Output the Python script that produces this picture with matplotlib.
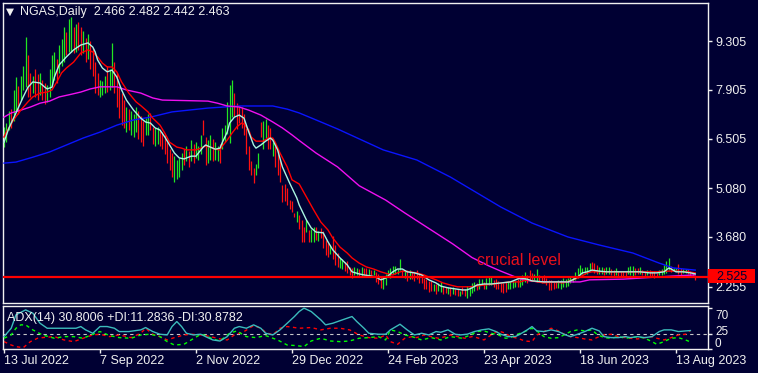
import matplotlib
matplotlib.use("Agg")
import numpy as np
import matplotlib.pyplot as plt
from matplotlib.patches import Rectangle
from matplotlib.transforms import blended_transform_factory

plt.rcParams["font.family"] = ["Liberation Sans", "DejaVu Sans"]

BG = "#000033"
FG = "#f0f0f0"

# ---- daily bars (index 0 = 13 Jul 2022, weekdays) ----
highs = [
    6.85, 6.95, 7.30, 7.35, 7.90, 8.27, 8.00, 8.30, 8.60, 9.42,
    8.90, 8.40, 8.30, 8.50, 8.35, 8.40, 8.20, 8.10, 8.05, 8.50,
    8.90, 9.00, 8.80, 9.20, 9.35, 9.70, 9.55, 9.95, 10.00, 9.70,
    9.80, 9.85, 9.70, 9.60, 9.40, 9.50, 9.30, 9.10, 8.70, 8.40,
    8.20, 8.15, 8.30, 8.60, 8.50, 9.25, 8.70, 8.40, 8.00, 7.80,
    7.60, 7.40, 7.35, 7.30, 7.20, 7.40, 7.30, 7.15, 7.00, 7.10,
    7.20, 7.25, 6.85, 6.80, 6.85, 6.75, 6.70, 6.60, 6.40, 6.20,
    6.10, 6.00, 5.90, 5.95, 6.10, 6.20, 6.30, 6.15, 6.45, 6.35,
    6.40, 6.30, 6.60, 7.05, 6.55, 6.45, 6.60, 6.50, 6.40, 6.30,
    6.35, 6.80, 6.90, 7.55, 8.05, 8.19, 7.80, 7.52, 7.41, 7.41,
    7.20, 6.81, 6.30, 5.86, 5.66, 5.78, 6.10, 6.98, 7.00, 7.06,
    6.90, 6.80, 6.40, 6.30, 6.20, 5.90, 5.17, 5.20, 5.10, 4.74,
    4.70, 4.37, 4.42, 4.30, 4.17, 3.97, 4.17, 3.88, 3.90, 3.97,
    3.97, 3.85, 3.94, 3.85, 3.59, 3.50, 3.45, 3.70, 3.45, 3.22,
    3.08, 3.05, 2.95, 3.00, 2.83, 2.78, 2.83, 2.78, 2.75, 2.83,
    2.78, 2.78, 2.75, 2.72, 2.72, 2.68, 2.62, 2.56, 2.53, 2.62,
    2.72, 2.80, 2.85, 2.85, 2.77, 3.05, 2.73, 2.72, 2.72, 2.72,
    2.68, 2.68, 2.72, 2.62, 2.56, 2.50, 2.46, 2.43, 2.43, 2.33,
    2.33, 2.36, 2.38, 2.27, 2.25, 2.23, 2.23, 2.23, 2.18, 2.18,
    2.14, 2.23, 2.18, 2.27, 2.23, 2.36, 2.40, 2.36, 2.46, 2.46,
    2.40, 2.50, 2.53, 2.53, 2.45, 2.48, 2.43, 2.36, 2.36, 2.40,
    2.42, 2.40, 2.42, 2.43, 2.48, 2.53, 2.60, 2.68, 2.60, 2.73,
    2.65, 2.62, 2.75, 2.58, 2.55, 2.58, 2.50, 2.45, 2.45, 2.40,
    2.43, 2.45, 2.45, 2.50, 2.48, 2.50, 2.53, 2.56, 2.68, 2.79,
    2.88, 2.79, 2.82, 2.82, 2.93, 2.96, 2.93, 2.88, 2.82, 2.82,
    2.79, 2.82, 2.82, 2.76, 2.73, 2.79, 2.70, 2.70, 2.70, 2.70,
    2.82, 2.85, 2.85, 2.79, 2.79, 2.82, 2.73, 2.70, 2.73, 2.73,
    2.70, 2.70, 2.65, 2.73, 2.75, 2.88, 2.99, 3.08, 2.85, 2.79,
    2.79, 2.90, 2.79, 2.76, 2.76, 2.76, 2.70, 2.68, 2.55,
]
lows = [
    6.26, 6.40, 6.75, 6.80, 7.00, 7.30, 7.20, 7.60, 7.90, 7.98,
    7.70, 7.70, 7.80, 7.70, 7.60, 7.75, 7.60, 7.50, 7.55, 7.70,
    8.00, 8.20, 8.10, 8.40, 8.60, 8.70, 8.90, 9.00, 9.00, 8.95,
    9.00, 9.05, 8.90, 8.95, 8.70, 8.80, 8.50, 8.30, 7.80, 7.75,
    7.70, 7.75, 7.80, 7.85, 7.90, 7.98, 7.80, 7.40, 7.10, 6.90,
    6.80, 6.70, 6.75, 6.60, 6.55, 6.70, 6.50, 6.40, 6.30, 6.60,
    6.60, 6.75, 6.35, 6.30, 6.35, 6.30, 6.20, 6.05, 5.80, 5.60,
    5.40, 5.26, 5.35, 5.40, 5.60, 5.75, 5.85, 5.70, 5.85, 5.80,
    5.95, 5.90, 6.05, 6.60, 5.75, 5.80, 5.90, 5.85, 5.90, 5.85,
    5.80, 6.20, 6.40, 6.65, 6.38, 7.12, 7.15, 6.78, 6.95, 6.81,
    6.60, 6.05, 5.60, 5.45, 5.23, 5.45, 5.66, 6.55, 6.20, 6.52,
    6.20, 6.20, 6.00, 5.70, 5.47, 5.26, 4.68, 4.70, 4.60, 4.48,
    4.40, 4.25, 4.10, 3.90, 3.54, 3.53, 3.82, 3.53, 3.55, 3.53,
    3.60, 3.57, 3.65, 3.37, 3.17, 3.10, 3.20, 3.05, 2.88, 2.82,
    2.80, 2.77, 2.71, 2.65, 2.59, 2.50, 2.59, 2.59, 2.56, 2.53,
    2.59, 2.53, 2.56, 2.59, 2.59, 2.40, 2.33, 2.22, 2.20, 2.30,
    2.53, 2.50, 2.62, 2.62, 2.62, 2.73, 2.53, 2.50, 2.43, 2.46,
    2.46, 2.43, 2.46, 2.36, 2.36, 2.20, 2.20, 2.10, 2.14, 2.14,
    2.04, 2.14, 2.10, 2.04, 2.06, 2.04, 1.99, 2.04, 2.01, 1.99,
    1.99, 2.04, 1.99, 1.94, 1.99, 2.08, 2.13, 2.17, 2.20, 2.30,
    2.20, 2.20, 2.30, 2.30, 2.25, 2.20, 2.20, 2.10, 2.07, 2.10,
    2.20, 2.20, 2.22, 2.25, 2.25, 2.25, 2.30, 2.39, 2.36, 2.42,
    2.45, 2.45, 2.40, 2.39, 2.36, 2.39, 2.30, 2.16, 2.16, 2.20,
    2.22, 2.22, 2.20, 2.25, 2.25, 2.28, 2.36, 2.39, 2.45, 2.50,
    2.59, 2.62, 2.62, 2.62, 2.73, 2.70, 2.65, 2.62, 2.62, 2.62,
    2.59, 2.62, 2.62, 2.59, 2.56, 2.59, 2.56, 2.56, 2.56, 2.56,
    2.62, 2.59, 2.56, 2.59, 2.62, 2.62, 2.59, 2.56, 2.59, 2.56,
    2.53, 2.50, 2.53, 2.59, 2.59, 2.62, 2.65, 2.73, 2.68, 2.70,
    2.70, 2.62, 2.59, 2.65, 2.65, 2.62, 2.56, 2.53, 2.44,
]
# u = up bar (green), d = down bar (red)
bar_dir = (
    "uuuduuduuu" "dduddudduu" "uuduuuduud" "uddududddd" "uuuduudddd"
    "duduuudddu" "udduuddddd" "duuuududud" "uuudduuduu" "duuuuudddd"
    "ddddduuduu" "dduddddddd" "dduddduduu" "dudddduddd" "uudddduudu"
    "ddududdduu" "uuuuuududu" "dddddddddu" "duuddududd" "udduuuuduu"
    "duuudddddd" "uuuuduuudd" "duuddddddd" "duuuuuuuuu" "uuuuuddduu"
    "duuddudddd" "uuudduddud" "ddduuuuudu" "udduudddd"
)

# ---- moving averages (bar index, price) ----
fast_ma_idx = [0, 2, 5, 8, 10, 12, 15, 17, 18, 20, 21, 23, 26, 29, 32, 35, 37, 38, 39, 41,
               43, 45, 47, 49, 51, 54, 57, 59, 61, 63, 65, 67, 69, 71, 73, 75, 78, 80, 81, 83,
               84, 86, 88, 90, 91, 93, 94, 96, 98, 100, 102, 104, 105, 107, 109, 111, 112, 114, 116, 119,
               122, 123, 126, 128, 130, 133, 135, 137, 140, 143, 145, 148, 150, 153, 155, 157, 159, 160, 162, 164,
               166, 168, 171, 174, 177, 180, 182, 185, 188, 191, 193, 195, 197, 200, 203, 207, 211, 215, 218, 220,
               225, 230, 235, 237, 239, 241, 243, 245, 248, 251, 255, 261, 265, 269, 272, 275, 277, 278, 280, 283,
               286, 288]
fast_ma = [6.40, 6.80, 7.24, 7.70, 7.98, 8.13, 8.10, 7.98, 7.93, 7.98, 8.27, 8.62, 8.85, 9.05, 9.19, 9.25, 9.13, 8.99, 8.76, 8.53,
           8.42, 8.47, 8.27, 7.90, 7.61, 7.32, 7.09, 6.98, 6.95, 6.81, 6.75, 6.55, 6.32, 6.09, 5.95, 5.92, 6.00, 6.00, 6.09, 6.26,
           6.32, 6.26, 6.20, 6.23, 6.40, 6.69, 6.95, 7.12, 7.18, 7.09, 6.69, 6.32, 6.23, 6.32, 6.43, 6.52, 6.46, 6.18, 5.69, 5.23,
           4.80, 4.60, 4.17, 3.94, 3.82, 3.80, 3.54, 3.31, 3.08, 2.88, 2.68, 2.62, 2.59, 2.56, 2.53, 2.45, 2.50, 2.56, 2.68, 2.76,
           2.76, 2.68, 2.65, 2.59, 2.45, 2.36, 2.27, 2.22, 2.19, 2.16, 2.16, 2.22, 2.30, 2.33, 2.33, 2.36, 2.39, 2.50, 2.47, 2.42,
           2.39, 2.39, 2.39, 2.45, 2.53, 2.65, 2.68, 2.73, 2.70, 2.68, 2.68, 2.68, 2.68, 2.65, 2.65, 2.68, 2.79, 2.76, 2.68, 2.68,
           2.65, 2.62]

mid_ma_idx = [0, 1, 4, 7, 10, 12, 15, 18, 20, 22, 24, 26, 29, 32, 35, 37, 39, 41, 43, 45,
              47, 49, 52, 55, 57, 60, 62, 65, 67, 69, 72, 74, 76, 80, 82, 84, 86, 88, 90, 91,
              93, 95, 97, 99, 100, 102, 103, 105, 108, 110, 112, 113, 115, 118, 120, 123, 126, 129, 132, 135,
              137, 140, 143, 145, 148, 151, 154, 157, 160, 162, 164, 166, 169, 172, 175, 178, 180, 183, 186, 189,
              191, 194, 197, 200, 204, 207, 211, 215, 218, 220, 225, 229, 233, 237, 240, 243, 245, 250, 255, 261,
              266, 272, 276, 280, 285, 288]
mid_ma = [6.55, 6.69, 7.04, 7.32, 7.56, 7.70, 7.81, 7.84, 7.90, 8.13, 8.39, 8.53, 8.70, 8.96, 9.05, 8.99, 8.85, 8.67, 8.56, 8.56,
          8.42, 8.13, 7.81, 7.56, 7.45, 7.27, 7.09, 6.89, 6.66, 6.40, 6.26, 6.23, 6.18, 6.18, 6.23, 6.29, 6.26, 6.20, 6.18, 6.29,
          6.46, 6.66, 6.84, 6.95, 6.92, 6.75, 6.55, 6.43, 6.43, 6.52, 6.52, 6.40, 6.09, 5.69, 5.32, 5.20, 4.83, 4.46, 4.11, 3.88,
          3.65, 3.39, 3.22, 3.08, 2.93, 2.82, 2.76, 2.68, 2.62, 2.59, 2.65, 2.70, 2.68, 2.65, 2.59, 2.50, 2.45, 2.36, 2.30, 2.25,
          2.25, 2.25, 2.27, 2.30, 2.33, 2.36, 2.39, 2.39, 2.45, 2.42, 2.36, 2.39, 2.36, 2.45, 2.53, 2.65, 2.68, 2.68, 2.68, 2.68,
          2.68, 2.68, 2.70, 2.70, 2.68, 2.65]

ma50_idx = [0, 3, 7, 11, 15, 19, 23, 27, 32, 36, 40, 47, 51, 57, 62, 66, 85, 89, 93, 98,
            102, 107, 112, 116, 120, 123, 130, 139, 148, 159, 167, 178, 187, 195, 202, 207, 211, 216, 223, 240,
            244, 258, 265, 272, 279, 288]
ma50 = [7.12, 7.24, 7.32, 7.41, 7.52, 7.58, 7.70, 7.76, 7.84, 7.93, 7.99, 7.99, 7.90, 7.81, 7.67, 7.61, 7.58, 7.52, 7.44, 7.41,
        7.32, 7.18, 6.98, 6.81, 6.61, 6.45, 6.09, 5.69, 5.15, 4.74, 4.37, 3.88, 3.48, 3.09, 2.85, 2.70, 2.59, 2.45, 2.39, 2.39,
        2.45, 2.47, 2.50, 2.53, 2.56, 2.59]

ma200_idx = [0, 5, 12, 19, 26, 33, 40, 47, 54, 61, 70, 85, 98, 112, 118, 123, 130, 139, 158, 172,
             186, 207, 220, 235, 248, 262, 273, 279, 288]
ma200 = [5.80, 5.83, 5.97, 6.12, 6.32, 6.52, 6.69, 6.89, 7.04, 7.12, 7.27, 7.38, 7.44, 7.44, 7.35, 7.24, 7.04, 6.78, 6.18, 5.89,
         5.40, 4.54, 4.08, 3.68, 3.45, 3.22, 2.93, 2.79, 2.73]

# ---- ADX(14) ----
adx_idx = [0, 3, 5, 9, 12, 15, 18, 26, 30, 32, 34, 37, 40, 43, 46, 48, 52, 57, 59, 62,
           65, 68, 70, 72, 74, 76, 79, 82, 84, 87, 90, 93, 96, 98, 101, 104, 107, 109, 112, 115,
           118, 121, 123, 125, 128, 132, 134, 137, 141, 145, 147, 150, 152, 156, 159, 161, 165, 168, 171, 174,
           177, 180, 182, 185, 188, 190, 193, 196, 199, 202, 205, 207, 210, 213, 215, 218, 220, 222, 225, 228,
           231, 234, 236, 239, 242, 245, 248, 250, 253, 256, 259, 261, 264, 267, 270, 273, 275, 278, 281, 284,
           286]
adx = [20.4, 34.8, 57.9, 66.3, 60.7, 43.4, 34.8, 34.8, 34.8, 37.7, 32.0, 26.2, 37.7, 37.7, 34.8, 29.1, 29.1, 32.0, 36.0, 29.1,
       24.5, 23.3, 37.7, 46.3, 37.7, 26.2, 23.3, 24.5, 20.4, 14.7, 12.9, 20.4, 34.8, 37.7, 34.8, 40.6, 34.8, 26.2, 23.3, 32.0,
       43.4, 54.9, 63.5, 69.3, 63.5, 49.2, 40.6, 43.4, 49.2, 54.9, 46.3, 34.8, 26.2, 24.5, 24.5, 32.0, 41.7, 32.0, 23.3, 26.2,
       23.3, 29.1, 27.9, 32.0, 24.5, 23.3, 24.5, 29.1, 32.0, 33.7, 29.1, 24.5, 20.4, 20.4, 24.5, 32.0, 37.7, 30.2, 29.1, 32.0,
       29.1, 23.3, 20.4, 24.5, 29.1, 34.8, 30.2, 20.4, 18.7, 18.7, 20.4, 18.7, 20.4, 18.7, 20.4, 29.1, 32.0, 32.0, 29.1, 30.2,
       30.8]

plus_di_idx = [0, 3, 5, 7, 9, 12, 16, 21, 25, 29, 33, 37, 40, 44, 48, 53, 57, 61, 65, 68,
               71, 75, 78, 82, 84, 87, 90, 94, 97, 101, 105, 109, 114, 118, 122, 125, 128, 132, 136, 140,
               144, 148, 152, 156, 159, 161, 164, 167, 170, 174, 178, 182, 186, 191, 195, 197, 200, 203, 206, 209,
               211, 214, 217, 220, 222, 225, 228, 231, 234, 236, 239, 242, 245, 247, 250, 253, 256, 259, 261, 264,
               267, 270, 272, 275, 278, 281, 284, 286]
plus_di = [17.6, 23.3, 34.8, 40.6, 40.6, 32.0, 23.3, 17.6, 20.4, 20.4, 17.6, 24.5, 29.1, 22.2, 18.7, 17.6, 23.3, 24.5, 20.4, 11.8,
           6.0, 7.2, 14.7, 24.5, 22.2, 16.4, 12.9, 26.2, 30.2, 20.4, 18.7, 22.2, 14.7, 6.0, 4.9, 3.2, 12.9, 17.6, 12.9, 11.8,
           12.9, 17.6, 18.7, 20.4, 14.7, 32.0, 29.1, 23.3, 20.4, 14.7, 18.7, 14.7, 20.4, 17.6, 24.5, 29.1, 30.2, 26.2, 23.3, 17.6,
           18.7, 24.5, 29.1, 34.8, 30.2, 20.4, 17.6, 18.7, 24.5, 29.1, 32.0, 30.2, 32.0, 24.5, 18.7, 17.6, 20.4, 17.6, 18.7, 20.4,
           17.6, 11.8, 7.2, 11.8, 17.6, 18.7, 14.7, 11.3]

minus_di_idx = [0, 3, 5, 8, 11, 14, 16, 21, 25, 29, 33, 37, 40, 44, 48, 53, 57, 59, 62, 65,
                68, 71, 75, 78, 82, 86, 90, 93, 96, 100, 104, 107, 109, 112, 115, 118, 121, 123, 128, 132,
                136, 140, 144, 148, 152, 156, 159, 161, 164, 167, 170, 172, 175, 178, 181, 184, 186, 189, 192, 195,
                197, 200, 203, 206, 209, 211, 214, 217, 220, 222, 225, 228, 231, 234, 236, 239, 242, 245, 247, 250,
                253, 256, 259, 261, 264, 267, 270, 272, 275, 278, 281, 284, 286]
minus_di = [11.8, 6.0, 3.2, 1.4, 11.8, 17.6, 18.7, 20.4, 14.7, 11.8, 17.6, 23.3, 24.5, 20.4, 23.3, 18.7, 26.2, 34.8, 24.5, 20.4,
            14.7, 18.7, 23.3, 24.5, 23.3, 20.4, 16.4, 14.7, 23.3, 29.1, 39.4, 34.8, 27.9, 23.3, 34.8, 37.7, 36.0, 34.8, 36.0, 32.0,
            34.8, 34.8, 32.0, 23.3, 18.7, 17.6, 23.3, 11.8, 7.2, 17.6, 20.4, 18.7, 23.3, 20.4, 17.6, 20.4, 23.3, 20.4, 17.6, 20.4,
            18.7, 14.7, 23.3, 30.2, 26.2, 20.4, 17.6, 12.9, 11.8, 23.3, 29.1, 34.8, 30.2, 23.3, 20.4, 18.7, 16.4, 14.7, 18.7, 23.3,
            24.5, 20.4, 18.7, 17.6, 16.4, 18.7, 20.4, 17.6, 14.7, 18.7, 23.3, 24.5, 30.9]

level_price = 2.525
price_ticks = [9.305, 7.905, 6.505, 5.080, 3.680, 2.255]
date_ticks = [0, 40, 80, 120, 160, 200, 240, 280]
date_labels = ["13 Jul 2022", "7 Sep 2022", "2 Nov 2022", "29 Dec 2022",
               "24 Feb 2023", "23 Apr 2023", "18 Jun 2023", "13 Aug 2023"]
adx_levels = [70, 25, 0]

# ---- figure in pixel layout ----
W, H = 758, 373
fig = plt.figure(figsize=(W / 100, H / 100), dpi=100, facecolor=BG)


def px_axes(x0, y0, x1, y1):
    return fig.add_axes([x0 / W, 1 - y1 / H, (x1 - x0) / W, (y1 - y0) / H])


ax = px_axes(3, 3, 708, 303)
ax2 = px_axes(3, 306, 708, 348.5)
xlim = (-1 / 2.4, 704 / 2.4)

for a in (ax, ax2):
    a.set_facecolor(BG)
    a.set_xlim(*xlim)
    for s in a.spines.values():
        s.set_color(FG)
        s.set_linewidth(1.0)

# bars
idx = np.arange(len(highs))
cols = ["#22e622" if d == "u" else "#ff1010" for d in bar_dir]
ax.vlines(idx, lows, highs, colors=cols, linewidth=0.9, zorder=2)

ax.plot(ma200_idx, ma200, color="#0a14ff", lw=1.0, zorder=3)
ax.plot(ma50_idx, ma50, color="#f010f0", lw=1.0, zorder=3)
ax.plot(mid_ma_idx, mid_ma, color="#ff0000", lw=1.0, zorder=4)
ax.plot(fast_ma_idx, fast_ma, color="#aaf5e0", lw=1.0, zorder=5)
ax.axhline(level_price, color="#ff0000", lw=1.6, zorder=6)

ax.set_ylim(1.785, 10.396)
ax.set_xticks([])
ax.yaxis.tick_right()
ax.set_yticks(price_ticks)
ax.set_yticklabels([f"{v:.3f}" for v in price_ticks])
ax.tick_params(axis="y", colors=FG, length=3, width=1, pad=2.5, labelsize=9)

ax.text(197, 2.87, "crucial level", color="#e8101a", fontsize=11.5, va="baseline", zorder=7)

# price label box for the level
trans = blended_transform_factory(ax.transAxes, ax.transData)
ax.add_patch(Rectangle((1.0, level_price - 0.17), 47 / 705, 0.40, transform=trans,
                       facecolor="#ff0000", edgecolor="none", clip_on=False, zorder=8))
ax.text(1.0 + 8 / 705, level_price + 0.02, f"{level_price:.3f}", transform=trans, color="#000033",
        fontsize=9, va="center", ha="left", zorder=9, clip_on=False)

fig.text(6 / W, 1 - 11.5 / H, "\u25bc", color=FG, fontsize=7.5, va="center", family=["DejaVu Sans"])
fig.text(20 / W, 1 - 12.5 / H, "NGAS,Daily  2.466 2.482 2.442 2.463", color=FG, fontsize=9, va="center")

# ---- ADX panel ----
ax2.set_ylim(0, 73)
ax2.axhline(25, color="#c8c8c8", lw=0.8, ls=(0, (3, 3)), zorder=1)
ax2.plot(minus_di_idx, minus_di, color="#ff0000", lw=1.0, ls=(0, (2.5, 2.5)), zorder=2)
ax2.plot(plus_di_idx, plus_di, color="#00ff00", lw=1.0, ls=(0, (2.5, 2.5)), zorder=3)
ax2.plot(adx_idx, adx, color="#3cbcbc", lw=1.0, zorder=4)
ax2.yaxis.tick_right()
ax2.set_yticks(adx_levels)
ax2.set_yticklabels([])
ax2.tick_params(axis="y", colors=FG, length=3, width=1)
trans2 = blended_transform_factory(ax2.transAxes, ax2.transData)
for v, dy in zip(adx_levels, [-6, 1.5, 3.0]):
    ax2.annotate(str(v), xy=(1.0, v), xycoords=trans2, xytext=(5, dy), textcoords="offset points",
                 color=FG, fontsize=8.5, va="center", ha="left", annotation_clip=False)

ax2.set_xticks(date_ticks)
ax2.set_xticklabels(date_labels)
ax2.tick_params(axis="x", colors=FG, length=3, width=1, pad=2, labelsize=9)
for lab in ax2.get_xticklabels():
    lab.set_ha("left")

fig.text(7 / W, 1 - 318 / H, "ADX(14) 30.8006 +DI:11.2836 -DI:30.8782", color=FG, fontsize=9, va="center")

fig.savefig("out.png", dpi=100, facecolor=BG)
